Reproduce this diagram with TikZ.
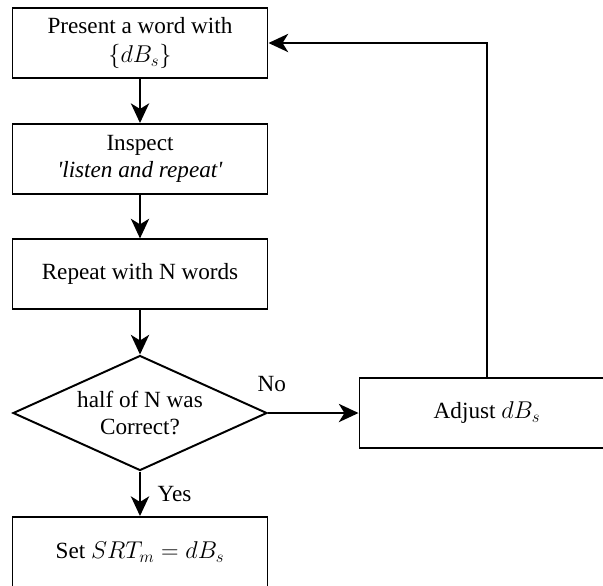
\documentclass[tikz,border=0pt]{standalone}
\usepackage{fontspec}
\setmainfont{Liberation Serif}
\usepackage{tikz}
\usetikzlibrary{shapes.geometric,arrows.meta,positioning}

\begin{document}
\begin{tikzpicture}[
    box/.style={rectangle, draw, line width=1.4pt, minimum width=6.375cm, minimum height=1.75cm, font=\fontsize{16.5}{19}\selectfont, align=center, inner sep=3pt},
    decision/.style={diamond, draw, line width=1.4pt, aspect=2.2, minimum width=6.35cm, minimum height=2.875cm, font=\fontsize{16.5}{19}\selectfont, align=center, inner sep=0pt},
    edgelabel/.style={font=\fontsize{16.5}{19}\selectfont},
    arr/.style={-{Stealth[length=14pt, width=13pt, inset=4pt]}, line width=1.4pt},
]

% frame of the picture (the adjust box runs past the right edge)
\useasboundingbox (0,0) rectangle (15.075,-14.625);
\clip (0,0) rectangle (15.075,-14.625);

% === MAIN COLUMN ===
\node[box] (present) at (3.5,-1.075) {Present a word with\\[2pt]$\{dB_s\}$};
\node[box] (inspect) at (3.5,-3.975) {Inspect\\\textit{\textquotesingle listen and repeat\textquotesingle}};
\node[box] (repeatn) at (3.5,-6.86)  {Repeat with N words};
\node[decision] (check) at (3.5,-10.325) {half of N was\\Correct?};
\node[box] (setsrt) at (3.5,-13.8)  {Set $SRT_m = dB_s$};

% === SIDE BRANCH ===
\node[box] (adjust) at (12.175,-10.325) {Adjust $dB_s$};

% === ARROWS ===
\draw[arr] (present) -- (inspect);
\draw[arr] (inspect) -- (repeatn);
\draw[arr] (repeatn) -- (check);
\draw[arr] (check) -- node[edgelabel, right=0.3cm] {Yes} (setsrt);
\draw[arr] (check.east) -- node[edgelabel, pos=0, anchor=south west, xshift=-0.4cm, yshift=0.4cm] {No} (adjust.west);

% loop back to the top
\draw[arr] (adjust.north) |- (present.east);

\end{tikzpicture}
\end{document}
